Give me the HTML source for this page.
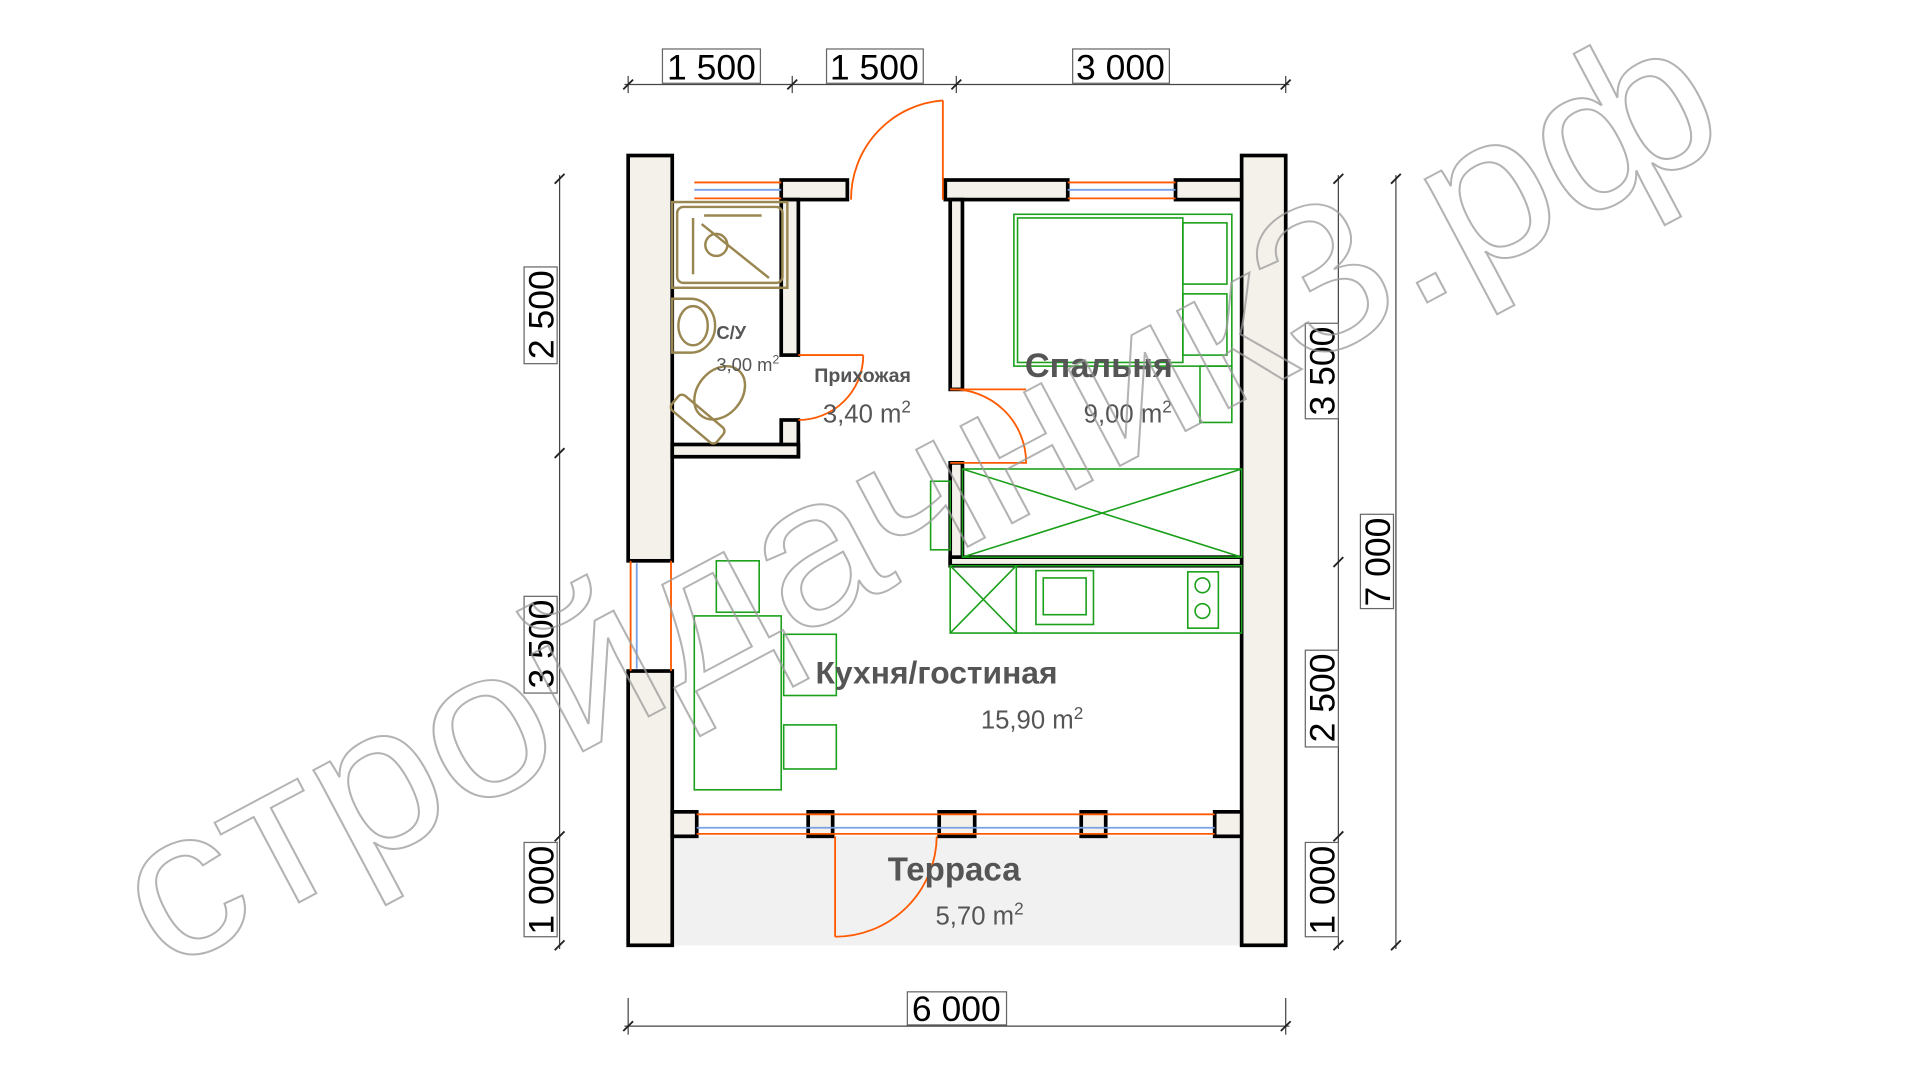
<!DOCTYPE html>
<html><head><meta charset="utf-8"><style>
html,body{margin:0;padding:0;background:#fff;width:1920px;height:1080px;overflow:hidden}
svg{display:block}
text{font-family:"Liberation Sans",sans-serif}
</style></head><body>
<svg width="1920" height="1080" viewBox="0 0 1568 882" xmlns="http://www.w3.org/2000/svg">
<!-- terrace floor -->
<rect x="549" y="683" width="465" height="89" fill="#f1f1f1"/>
<!-- walls fill -->
<g fill="#f3f1ea" stroke="#000" stroke-width="3">
<rect x="513" y="127" width="36" height="331"/>
<rect x="513" y="548" width="36" height="224"/>
<rect x="1014" y="127" width="36" height="645"/>
<rect x="638" y="147" width="54" height="16"/>
<rect x="772" y="147" width="100" height="16"/>
<rect x="960" y="147" width="54" height="16"/>
<rect x="638" y="163" width="14" height="127"/>
<rect x="638" y="343" width="14" height="30"/>
<rect x="549" y="363" width="103" height="10"/>
<rect x="776" y="163" width="10" height="155"/>
<rect x="776" y="378" width="10" height="82"/>
<rect x="776" y="455" width="238" height="7"/>
<rect x="549" y="663" width="20" height="20"/>
<rect x="660" y="663" width="20" height="20"/>
<rect x="767" y="663" width="29" height="20"/>
<rect x="883" y="663" width="20" height="20"/>
<rect x="992" y="663" width="22" height="20"/>
</g>
<!-- windows -->
<g fill="none" stroke-width="1.5">
<g stroke="#ff5a00"><line x1="567" y1="149" x2="638" y2="149"/><line x1="567" y1="162" x2="638" y2="162"/>
<line x1="872" y1="149" x2="960" y2="149"/><line x1="872" y1="162" x2="960" y2="162"/>
<line x1="515" y1="458" x2="515" y2="548"/><line x1="548" y1="458" x2="548" y2="548"/>
<line x1="569" y1="665" x2="992" y2="665"/><line x1="569" y1="681" x2="992" y2="681"/></g>
<g stroke="#7aa0e8"><line x1="567" y1="155" x2="638" y2="155"/><line x1="872" y1="155" x2="960" y2="155"/>
<line x1="520" y1="460" x2="520" y2="546"/><line x1="569" y1="676" x2="992" y2="676"/></g>
</g>
<!-- doors -->
<g fill="none" stroke="#ff5a00" stroke-width="1.5">
<line x1="770" y1="82" x2="770" y2="163"/><path d="M770 82 A81 81 0 0 0 695 163"/>
<line x1="652" y1="290" x2="705" y2="290"/><path d="M705 290 A53 53 0 0 1 652 343"/>
<line x1="776" y1="318" x2="838" y2="318"/><path d="M776 318 A60 60 0 0 1 838 378 L776 378"/>
<line x1="682" y1="683" x2="682" y2="765"/><path d="M682 765 A83 83 0 0 0 765 683"/>
</g>
<!-- furniture green -->
<g fill="none" stroke="#1aa01a" stroke-width="1.3">
<rect x="828" y="175" width="178" height="124"/><rect x="831" y="178" width="135" height="118"/>
<rect x="966" y="182" width="36" height="50"/><rect x="966" y="240" width="36" height="50"/>
<rect x="980" y="299" width="26" height="46"/>
<rect x="786" y="383" width="228" height="72"/><line x1="786" y1="383" x2="1014" y2="455"/><line x1="786" y1="455" x2="1014" y2="383"/>
<rect x="760" y="393" width="16" height="56"/>
<rect x="776" y="462" width="238" height="55"/><line x1="830" y1="462" x2="830" y2="517"/>
<line x1="776" y1="462" x2="830" y2="517"/><line x1="776" y1="517" x2="830" y2="462"/>
<rect x="846" y="466" width="47" height="44"/><rect x="852" y="472" width="35" height="30"/>
<rect x="970" y="467" width="25" height="46"/><circle cx="982" cy="478" r="6"/><circle cx="982" cy="499" r="6"/>
<rect x="567" y="503" width="71" height="142"/>
<rect x="585" y="458" width="35" height="42"/><rect x="640" y="518" width="43" height="50"/><rect x="640" y="592" width="43" height="36"/>
</g>
<!-- bathroom fixtures -->
<g fill="none" stroke="#9a8650" stroke-width="2">
<rect x="549" y="165" width="94" height="70"/><rect x="553" y="169" width="86" height="62" rx="5"/>
<line x1="566" y1="178" x2="566" y2="224"/><line x1="575" y1="176" x2="622" y2="176"/><line x1="573" y1="183" x2="628" y2="227"/>
<circle cx="585" cy="200" r="9"/>
<path d="M549 244 h15 a20 22 0 0 1 0 44 h-15 z"/><ellipse cx="566" cy="266" rx="12" ry="16"/>
<g transform="rotate(40 580 330)"><rect x="556" y="338" width="48" height="16" rx="4"/><ellipse cx="580" cy="318" rx="18" ry="24"/></g>
</g>
<!-- dimensions -->
<g stroke="#444" stroke-width="1" fill="none">
<line x1="510" y1="69" x2="1053" y2="69"/>
<line x1="513" y1="62" x2="513" y2="76"/><line x1="647" y1="62" x2="647" y2="76"/><line x1="781" y1="62" x2="781" y2="76"/><line x1="1050" y1="62" x2="1050" y2="76"/>
<line x1="457" y1="143" x2="457" y2="775"/>
<line x1="1093" y1="143" x2="1093" y2="775"/>
<line x1="1140" y1="143" x2="1140" y2="775"/>
<line x1="510" y1="838" x2="1053" y2="838"/><line x1="513" y1="815" x2="513" y2="845"/><line x1="1050" y1="815" x2="1050" y2="845"/>
</g>
<g stroke="#222" stroke-width="1.5">
<path d="M509 73l8-8M643 73l8-8M777 73l8-8M1046 73l8-8M509 842l8-8M1046 842l8-8"/>
<path d="M453 150l8-8M453 374l8-8M453 687l8-8M453 776l8-8"/>
<path d="M1089 150l8-8M1089 463l8-8M1089 687l8-8M1089 776l8-8M1136 150l8-8M1136 776l8-8"/>
</g>
<g fill="#fff" stroke="#666" stroke-width="1">
<rect x="541" y="40" width="80" height="28"/><rect x="675" y="40" width="79" height="28"/><rect x="876" y="40" width="79" height="28"/>
<rect x="741" y="810" width="81" height="27"/>
<rect x="428" y="218" width="27" height="79"/><rect x="428" y="487" width="27" height="79"/><rect x="428" y="688" width="27" height="77"/>
<rect x="1066" y="264" width="27" height="78"/><rect x="1066" y="531" width="27" height="79"/><rect x="1066" y="688" width="27" height="77"/>
<rect x="1111" y="420" width="27" height="77"/>
</g>
<g font-size="29" fill="#000" text-anchor="middle">
<text x="581" y="65">1 500</text><text x="714" y="65">1 500</text><text x="915" y="65">3 000</text><text x="781" y="834">6 000</text>
<text transform="translate(452 257) rotate(-90)">2 500</text>
<text transform="translate(452 526) rotate(-90)">3 500</text>
<text transform="translate(452 727) rotate(-90)">1 000</text>
<text transform="translate(1090 303) rotate(-90)">3 500</text>
<text transform="translate(1090 570) rotate(-90)">2 500</text>
<text transform="translate(1090 727) rotate(-90)">1 000</text>
<text transform="translate(1135 459) rotate(-90)">7 000</text>
</g>
<!-- room labels -->
<g fill="#555">
<text x="585" y="277" font-size="15" font-weight="bold">С/У</text>
<text x="585" y="303" font-size="15">3,00 m<tspan font-size="10" dy="-6">2</tspan></text>
<text x="665" y="312" font-size="16" font-weight="bold">Прихожая</text>
<text x="672" y="345" font-size="21">3,40 m<tspan font-size="14" dy="-8">2</tspan></text>
<text x="837" y="308" font-size="28" font-weight="bold">Спальня</text>
<text x="885" y="345" font-size="21">9,00 m<tspan font-size="14" dy="-8">2</tspan></text>
<text x="666" y="558" font-size="26" font-weight="bold">Кухня/гостиная</text>
<text x="801" y="595" font-size="21">15,90 m<tspan font-size="14" dy="-8">2</tspan></text>
<text x="725" y="719" font-size="27" font-weight="bold">Терраса</text>
<text x="764" y="755" font-size="21">5,70 m<tspan font-size="14" dy="-8">2</tspan></text>
</g>
<!-- watermark -->
<text transform="translate(135 795) rotate(-28)" font-size="170" fill="none" stroke="#9a9a9a" stroke-width="1.6" opacity="0.75" textLength="1450" lengthAdjust="spacingAndGlyphs">стройдачник3.рф</text>
</svg>
</body></html>
